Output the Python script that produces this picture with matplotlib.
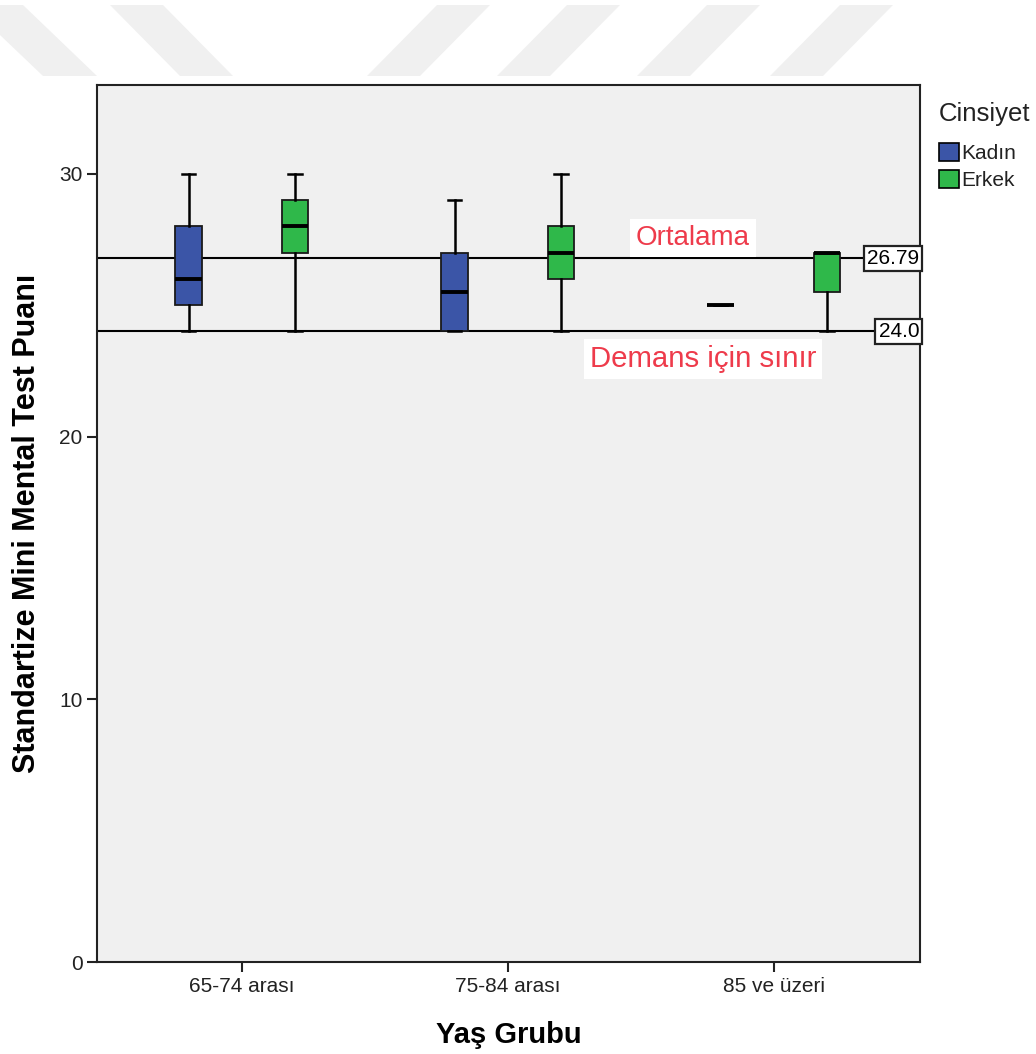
import matplotlib
matplotlib.use("Agg")
import matplotlib.pyplot as plt
from matplotlib.patches import Polygon, Patch
import matplotlib.transforms as mtransforms

plt.rcParams['font.family'] = ['Liberation Sans', 'DejaVu Sans']

# ---- data ----
age_groups = ["65-74 arası", "75-84 arası", "85 ve üzeri"]
genders = ["Kadın", "Erkek"]
kadin_whislo = [24, 24, 25]
kadin_q1 = [25, 24, 25]
kadin_med = [26, 25.5, 25]
kadin_q3 = [28, 27, 25]
kadin_whishi = [30, 29, 25]
erkek_whislo = [24, 24, 24]
erkek_q1 = [27, 26, 25.5]
erkek_med = [28, 27, 27]
erkek_q3 = [29, 28, 27]
erkek_whishi = [30, 30, 27]
mean_value = 26.79
dementia_cutoff = 24.0
yticks = [0, 10, 20, 30]

colors = {"Kadın": "#3b55a7", "Erkek": "#2fb84a"}

W, H = 1036, 1054
fig = plt.figure(figsize=(W / 100, H / 100), dpi=100)

# faint watermark stripes at the top (decoration)
stripes = [
    [(0, 5), (23, 5), (97, 76), (43, 76), (0, 35)],
    [(110, 5), (163, 5), (233, 76), (180, 76)],
    [(437, 5), (490, 5), (420, 76), (367, 76)],
    [(567, 5), (620, 5), (550, 76), (497, 76)],
    [(707, 5), (760, 5), (690, 76), (637, 76)],
    [(840, 5), (893, 5), (823, 76), (770, 76)],
]
for s in stripes:
    pts = [(x / W, 1 - y / H) for x, y in s]
    fig.patches.append(Polygon(pts, closed=True, transform=fig.transFigure,
                               facecolor="#f0f0f0", edgecolor="none", zorder=0))

ax = fig.add_axes([97 / W, 1 - 962 / H, (920 - 97) / W, (962 - 85) / H])
ax.set_facecolor("#f0f0f0")

offset = 0.2
bw = 0.1
series = [
    ("Kadın", kadin_whislo, kadin_q1, kadin_med, kadin_q3, kadin_whishi, -offset),
    ("Erkek", erkek_whislo, erkek_q1, erkek_med, erkek_q3, erkek_whishi, offset),
]
for name, lo, q1, med, q3, hi, off in series:
    stats = []
    for i in range(len(age_groups)):
        stats.append(dict(whislo=lo[i], q1=q1[i], med=med[i], q3=q3[i],
                          whishi=hi[i], fliers=[], label=age_groups[i]))
    pos = [i + off for i in range(len(age_groups))]
    ax.bxp(stats, positions=pos, widths=bw, patch_artist=True,
           showfliers=False, manage_ticks=False,
           boxprops=dict(facecolor=colors[name], edgecolor="#1a1a1a", linewidth=1.3),
           medianprops=dict(color="black", linewidth=2.8, solid_capstyle="butt"),
           whiskerprops=dict(color="black", linewidth=1.8),
           capprops=dict(color="black", linewidth=1.8),
           capwidths=0.05, zorder=3)

# reference lines
ax.axhline(mean_value, color="black", linewidth=1.5, zorder=2)
ax.axhline(dementia_cutoff, color="black", linewidth=1.5, zorder=2)

trans = mtransforms.blended_transform_factory(ax.transAxes, ax.transData)
for val, txt in [(mean_value, f"{mean_value:.2f}"), (dementia_cutoff, f"{dementia_cutoff:.1f}")]:
    ax.text(0.999, val, txt, transform=trans, ha="right", va="center",
            fontsize=15, color="black", zorder=6,
            bbox=dict(boxstyle="square,pad=0.15", facecolor="white",
                      edgecolor="#222222", linewidth=1.6))

ax.text(1.695, 27.56, "Ortalama", ha="center", va="center", fontsize=20,
        color="#ee3b4b", zorder=5,
        bbox=dict(boxstyle="square,pad=0.22", facecolor="white", edgecolor="none"))
ax.text(1.733, 22.95, "Demans için sınır", ha="center", va="center", fontsize=21.2,
        color="#ee3b4b", zorder=5,
        bbox=dict(boxstyle="square,pad=0.2", facecolor="white", edgecolor="none"))

ax.set_xlim(-0.545, 2.55)
ax.set_ylim(0, 33.38)
ax.set_xticks(range(len(age_groups)))
ax.set_xticklabels(age_groups, fontsize=15, color="#222222")
ax.set_yticks(yticks)
ax.set_yticklabels([str(t) for t in yticks], fontsize=15, color="#222222")
ax.tick_params(axis="both", length=7, width=1.5, color="#222222", direction="out")
for sp in ax.spines.values():
    sp.set_linewidth(1.5)
    sp.set_color("#222222")

ax.set_xlabel("Yaş Grubu", fontsize=21, fontweight="bold", labelpad=18)
ax.set_ylabel("Standartize Mini Mental Test Puanı", fontsize=22, fontweight="bold", labelpad=12)

handles = [Patch(facecolor=colors[g], edgecolor="black", linewidth=1.2, label=g) for g in genders]
leg = ax.legend(handles=handles, title="Cinsiyet", loc="upper left",
                bbox_to_anchor=(1.0205, 0.983), frameon=False, fontsize=15,
                title_fontsize=18.5, handlelength=0.95, handleheight=0.95,
                handletextpad=0.12, labelspacing=0.34, borderpad=0.1,
                borderaxespad=0, alignment="left")
leg._legend_box.sep = 12
leg.get_title().set_color("#222222")
for t in leg.get_texts():
    t.set_color("#222222")

fig.savefig("out.png", dpi=100)
